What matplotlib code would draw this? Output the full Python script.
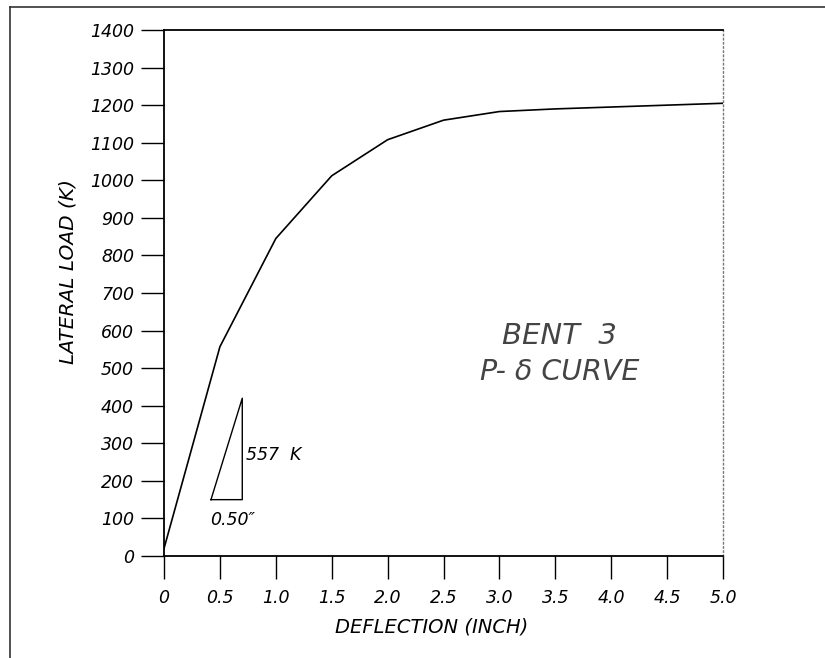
import matplotlib
matplotlib.use("Agg")
import matplotlib.pyplot as plt
from matplotlib.lines import Line2D

# P-delta curve, bent 3
deflection = [0.0, 0.5, 1.0, 1.5, 2.0, 2.5, 3.0, 3.5, 4.0, 4.5, 5.0]
load = [20, 557, 845, 1012, 1108, 1160, 1183, 1190, 1195, 1200, 1205]

x_ticks = [0, 0.5, 1.0, 1.5, 2.0, 2.5, 3.0, 3.5, 4.0, 4.5, 5.0]
x_labels = ["0", "0.5", "1.0", "1.5", "2.0", "2.5", "3.0", "3.5", "4.0", "4.5", "5.0"]
y_ticks = list(range(0, 1401, 100))

# slope triangle (schematic)
tri_x = [0.42, 0.70, 0.70, 0.42]
tri_y = [150, 150, 420, 150]

plt.rcParams['font.family'] = 'DejaVu Sans'
plt.rcParams['font.style'] = 'italic'

fig = plt.figure(figsize=(8.25, 6.58), dpi=100)
ax = fig.add_axes([0.1988, 0.155, 0.6776, 0.7994])

ax.plot(deflection, load, color='black', lw=1.2)
ax.plot(tri_x, tri_y, color='black', lw=1.0)
ax.text(0.73, 268, "557  K", fontsize=12.5, va='center', ha='left')
ax.text(0.41, 95, "0.50\u2033", fontsize=12.5, va='center', ha='left')

ax.text(3.54, 585, "BENT  3", fontsize=21, ha='center', va='center',
        color='#444444', fontweight='light')
ax.text(3.54, 490, "P- \u03b4 CURVE", fontsize=20.5, ha='center', va='center',
        color='#444444', fontweight='light')

ax.set_xlim(0, 5.0)
ax.set_ylim(0, 1400)
ax.set_xticks(x_ticks)
ax.set_xticklabels(x_labels)
ax.set_yticks(y_ticks)
ax.tick_params(direction='out', length=16.5, width=1.0, labelsize=12.5)
ax.tick_params(axis='y', pad=5)
ax.tick_params(axis='x', pad=7)

for s in ['left', 'bottom', 'top']:
    ax.spines[s].set_linewidth(1.3)
ax.spines['right'].set_linestyle((0, (1, 2)))
ax.spines['right'].set_color('#777777')
ax.spines['right'].set_linewidth(1.0)

ax.set_xlabel("DEFLECTION (INCH)", fontsize=14)
ax.set_ylabel("LATERAL LOAD (K)", fontsize=14.5)
ax.xaxis.set_label_coords(0.478, -0.117)
ax.yaxis.set_label_coords(-0.155, 0.54)

# outer drawing frame
fig.add_artist(Line2D([10/825, 10/825], [0, 1 - 7/658], transform=fig.transFigure,
                      color='#333333', lw=1.2))
fig.add_artist(Line2D([10/825, 1], [1 - 7/658, 1 - 7/658], transform=fig.transFigure,
                      color='#333333', lw=1.2))

fig.savefig("out.png", dpi=100)
